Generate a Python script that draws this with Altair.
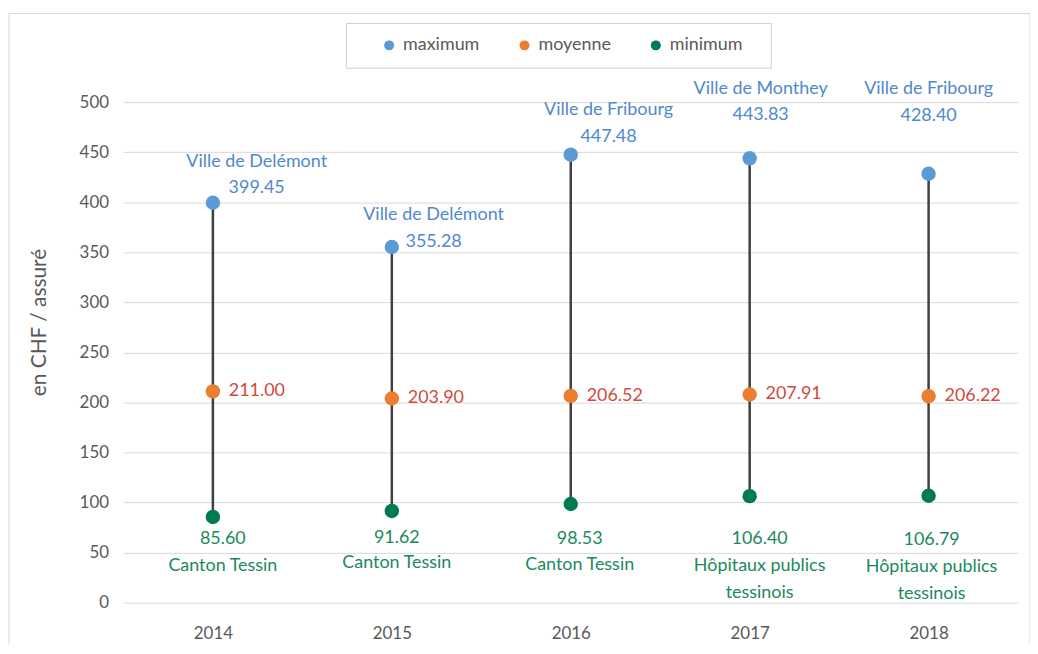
import altair as alt
import pandas as pd

# ---- data ----
years = ["2014", "2015", "2016", "2017", "2018"]
maximum = [399.45, 355.28, 447.48, 443.83, 428.40]
moyenne = [211.00, 203.90, 206.52, 207.91, 206.22]
minimum = [85.60, 91.62, 98.53, 106.40, 106.79]
max_names = ["Ville de Delémont", "Ville de Delémont", "Ville de Fribourg",
             "Ville de Monthey", "Ville de Fribourg"]
min_names = [["Canton Tessin"], ["Canton Tessin"], ["Canton Tessin"],
             ["Hôpitaux publics", "tessinois"], ["Hôpitaux publics", "tessinois"]]
series = ["maximum", "moyenne", "minimum"]
y_ticks = [0, 50, 100, 150, 200, 250, 300, 350, 400, 450, 500]

# ---- styles ----
dot_colors = ["#5B9BD5", "#ED7D31", "#007A53"]
max_text_color = "#5088CE"
mean_text_color = "#CF4B40"
min_text_color = "#1A8A5C"
grey = "#595959"
FONT = "Lato"
PLOT_W, PLOT_H = 899, 503
Y_MAX = 500

# label placement (pixel offsets from each point)
max_dx = [44, 42, 38, 11, 0]
max_name_dy = [-41, -32, -45, -70, -85]
max_val_dy = [-15, -5, -18, -44, -58]
min_dx = [10, 5, 9, 10, 3]
min_val_dy = [22, 27, 35, 43, 45]
min_name_dy = [49, 52, 61, 70, 72]
line_gap = 27

# ---- tables ----
wide = pd.DataFrame({"year": years, "maximum": maximum,
                     "moyenne": moyenne, "minimum": minimum})
long = wide.melt(id_vars="year", value_vars=series,
                 var_name="serie", value_name="valeur")

units_per_px = Y_MAX / PLOT_H

max_rows, min_rows = [], []
for i, yr in enumerate(years):
    max_rows.append({"year": yr, "valeur": maximum[i], "text": max_names[i],
                     "ox": max_dx[i], "oy": max_name_dy[i]})
    max_rows.append({"year": yr, "valeur": maximum[i], "text": f"{maximum[i]:.2f}",
                     "ox": max_dx[i], "oy": max_val_dy[i]})
    min_rows.append({"year": yr, "valeur": minimum[i], "text": f"{minimum[i]:.2f}",
                     "ox": min_dx[i], "oy": min_val_dy[i]})
    for k, line in enumerate(min_names[i]):
        min_rows.append({"year": yr, "valeur": minimum[i], "text": line,
                         "ox": min_dx[i], "oy": min_name_dy[i] + k * line_gap})
max_lab = pd.DataFrame(max_rows)
min_lab = pd.DataFrame(min_rows)
for df in (max_lab, min_lab):
    # anchor each label at its point, shifted by the pixel offset
    df["pos"] = df["valeur"] - df["oy"] * units_per_px
mean_lab = pd.DataFrame({"year": years, "valeur": moyenne,
                         "text": [f"{v:.2f}" for v in moyenne]})

# ---- encodings ----
ytitle = "en CHF / assuré"
x_enc = alt.X("year:N", scale=alt.Scale(type="point", padding=0.5),
              axis=alt.Axis(title=None, labelAngle=0, ticks=False, tickSize=0,
                            domain=False, labelPadding=23, labelFontSize=17,
                            labelColor=grey, labelFont=FONT, grid=False))
y_axis = alt.Axis(values=y_ticks, ticks=False, domain=False, grid=True,
                  gridColor="#D9D9D9", labelPadding=15, labelFontSize=17,
                  labelColor=grey, labelFont=FONT, titleFont=FONT,
                  titleFontSize=21, titleFontWeight="normal", titleColor=grey,
                  titleX=-84, titleY=221, titleAlign="center",
                  titleBaseline="middle")
y_scale = alt.Scale(domain=[0, Y_MAX], nice=False)

def y_enc(field):
    return alt.Y(field, scale=y_scale, axis=y_axis, title=ytitle)

frame = alt.Chart(pd.DataFrame({"k": [0]})).mark_rect(
    fillOpacity=0, stroke="#D9D9D9", strokeWidth=1
).encode(x=alt.value(-115), x2=alt.value(911), y=alt.value(-89), y2=alt.value(560))

legend_box = alt.Chart(pd.DataFrame({"k": [0]})).mark_rect(
    fill="white", stroke="#D0D0D0", strokeWidth=1
).encode(x=alt.value(224), x2=alt.value(651), y=alt.value(-79), y2=alt.value(-34))

rules = alt.Chart(wide).mark_rule(color="#404040", strokeWidth=2.5).encode(
    x=x_enc, y=y_enc("minimum:Q"), y2="maximum:Q")

points = alt.Chart(long).mark_circle(size=210, opacity=1).encode(
    x=x_enc, y=y_enc("valeur:Q"),
    color=alt.Color("serie:N",
                    scale=alt.Scale(domain=series, range=dot_colors),
                    legend=alt.Legend(orient="none", legendX=258, legendY=-66,
                                      direction="horizontal", columns=3,
                                      title=None, symbolType="circle",
                                      symbolSize=100, symbolStrokeWidth=0,
                                      labelFont=FONT, labelFontSize=18,
                                      labelColor=grey, labelOffset=5,
                                      columnPadding=36, padding=0)))

max_text = alt.Chart(max_lab).mark_text(
    font=FONT, fontSize=18, color=max_text_color, align="center", baseline="middle"
).encode(x=x_enc, y=y_enc("pos:Q"), text="text:N",
         xOffset=alt.XOffset("ox:Q", scale=None))

min_text = alt.Chart(min_lab).mark_text(
    font=FONT, fontSize=18, color=min_text_color, align="center", baseline="middle"
).encode(x=x_enc, y=y_enc("pos:Q"), text="text:N",
         xOffset=alt.XOffset("ox:Q", scale=None))

mean_text = alt.Chart(mean_lab).mark_text(
    font=FONT, fontSize=18, color=mean_text_color, align="left",
    baseline="middle", dx=16
).encode(x=x_enc, y=y_enc("valeur:Q"), text="text:N")

chart = alt.layer(frame, legend_box, rules, points, max_text, mean_text, min_text).properties(
    width=PLOT_W, height=PLOT_H,
    autosize=alt.AutoSizeParams(type="none"),
    padding={"left": 116, "top": 93, "right": 12, "bottom": 40},
).configure_view(strokeWidth=0).configure_axisY(
    titleFontSize=21, titleFont=FONT, titleColor=grey, titleFontWeight="normal"
)

chart.save("out.html", embed_options={"renderer": "svg", "actions": False})
